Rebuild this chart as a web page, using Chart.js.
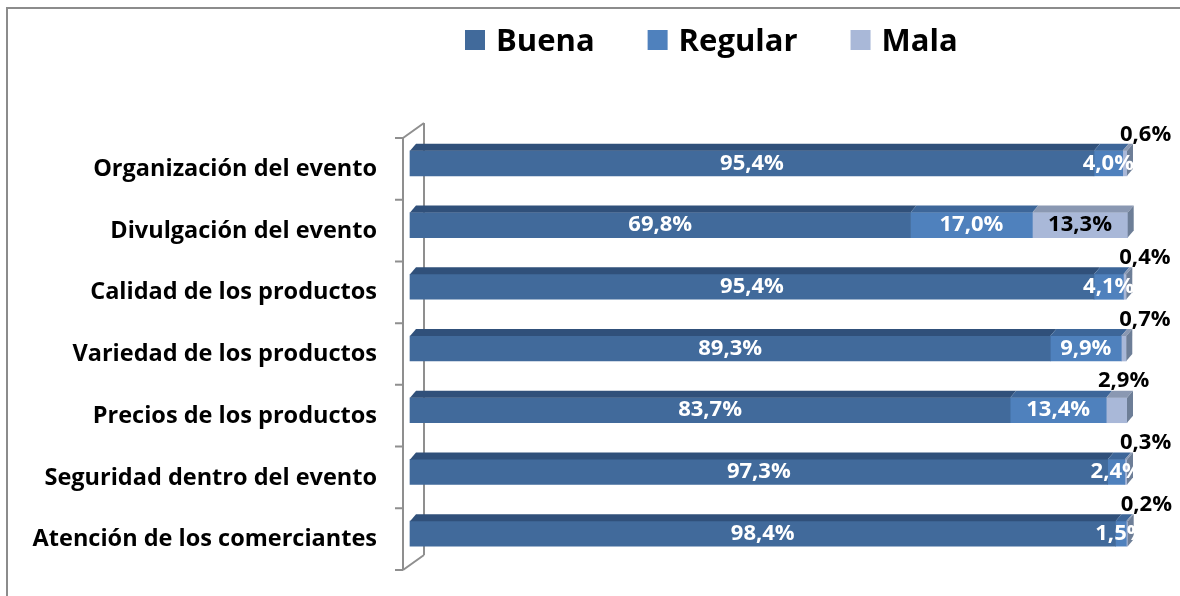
<!DOCTYPE html>
<html lang="es">
<head>
<meta charset="UTF-8" />
<title>Evaluación del evento</title>
<script src="https://cdn.jsdelivr.net/npm/chart.js"></script>
<style>
  html, body { margin: 0; padding: 0; background: #fff; }
  #wrap { width: 1180px; height: 596px; position: relative; }
</style>
</head>
<body>
<div id="wrap"><canvas id="chart" width="1180" height="596"></canvas></div>
<script>
// ----------- datos ------------
const categories = [
    'Organización del evento',
    'Divulgación del evento',
    'Calidad de los productos',
    'Variedad de los productos',
    'Precios de los productos',
    'Seguridad dentro del evento',
    'Atención de los comerciantes'
];
const seriesNames = ['Buena', 'Regular', 'Mala'];
const buena = [95.4, 69.8, 95.4, 89.3, 83.7, 97.3, 98.4];
const regular = [4.0, 17.0, 4.1, 9.9, 13.4, 2.4, 1.5];
const mala = [0.6, 13.3, 0.4, 0.7, 2.9, 0.3, 0.2];

const frontColors = ['#416a9b', '#4f81bd', '#a9b8d8'];
const topColors = ['#30507a', '#3d6699', '#8a98b2'];
const sideColor = '#6d7e97';
const labelColors = ['#ffffff', '#ffffff', '#000000'];
const FONT = '"Open Sans", "DejaVu Sans", sans-serif';
const DEPTH_X = 6, DEPTH_Y = 7;

const fmt = v => v.toFixed(1).replace('.', ',') + '%';

// marco, pared del eje y leyenda
const decoPlugin = {
    id: 'deco',
    beforeDatasetsDraw(chart) {
        const ctx = chart.ctx;
        const area = chart.chartArea;
        const ys = chart.scales.y;
        const band = ys.getPixelForValue(1) - ys.getPixelForValue(0);
        const top = ys.getPixelForValue(0) - band / 2 + 5.5;
        const bottom = ys.getPixelForValue(categories.length - 1) + band / 2 + 5.5;
        const fx = area.left - 7, bx = area.left + 14, off = 15;
        ctx.save();
        // marco exterior
        ctx.strokeStyle = '#8c8c8c';
        ctx.lineWidth = 2;
        ctx.beginPath();
        ctx.moveTo(7, 596); ctx.lineTo(7, 8); ctx.lineTo(1180, 8);
        ctx.stroke();
        // pared 3D
        ctx.strokeStyle = '#8f8f8f';
        ctx.lineWidth = 2;
        ctx.beginPath();
        ctx.moveTo(fx, top); ctx.lineTo(fx, bottom);
        ctx.moveTo(bx, top - off); ctx.lineTo(bx, bottom - off);
        ctx.moveTo(fx, top); ctx.lineTo(bx, top - off);
        ctx.moveTo(fx, bottom); ctx.lineTo(bx, bottom - off);
        for (let i = 0; i <= categories.length; i++) {
            const y = top + i * band;
            ctx.moveTo(fx - 8, y); ctx.lineTo(fx, y);
        }
        ctx.stroke();
        ctx.restore();
    },
    afterDatasetsDraw(chart) {
        const ctx = chart.ctx;
        const metas = chart.data.datasets.map((_, i) => chart.getDatasetMeta(i));
        ctx.save();
        // caras superior y lateral
        metas.forEach((meta, di) => {
            meta.data.forEach((bar, i) => {
                const h = bar.height, y0 = bar.y - h / 2;
                const x0 = Math.min(bar.base, bar.x), x1 = Math.max(bar.base, bar.x);
                ctx.fillStyle = topColors[di];
                ctx.beginPath();
                ctx.moveTo(x0, y0);
                ctx.lineTo(x0 + DEPTH_X, y0 - DEPTH_Y);
                ctx.lineTo(x1 + DEPTH_X, y0 - DEPTH_Y);
                ctx.lineTo(x1, y0);
                ctx.closePath();
                ctx.fill();
                if (di === metas.length - 1) {
                    ctx.fillStyle = sideColor;
                    ctx.beginPath();
                    ctx.moveTo(x1, y0);
                    ctx.lineTo(x1 + DEPTH_X, y0 - DEPTH_Y);
                    ctx.lineTo(x1 + DEPTH_X, y0 + h - DEPTH_Y);
                    ctx.lineTo(x1, y0 + h);
                    ctx.closePath();
                    ctx.fill();
                }
            });
        });
        // etiquetas de datos
        ctx.font = 'bold 22px ' + FONT;
        ctx.textBaseline = 'middle';
        metas.forEach((meta, di) => {
            const values = chart.data.datasets[di].data;
            meta.data.forEach((bar, i) => {
                const v = values[i];
                const cx = (bar.base + bar.x) / 2;
                ctx.fillStyle = labelColors[di];
                if (di === 2 && v < 5) {
                    const ly = bar.y - 29;
                    if (v < 1) {
                        ctx.textAlign = 'left';
                        ctx.fillText(fmt(v), bar.x - 7, ly);
                    } else {
                        ctx.textAlign = 'center';
                        ctx.fillText(fmt(v), cx + 7, ly);
                    }
                } else {
                    ctx.textAlign = 'center';
                    ctx.fillText(fmt(v), cx, bar.y);
                }
            });
        });
        // leyenda
        ctx.font = 'bold 31px ' + FONT;
        ctx.textAlign = 'left';
        let lx = 465;
        seriesNames.forEach((name, di) => {
            ctx.fillStyle = frontColors[di];
            ctx.fillRect(lx, 30, 20, 20);
            ctx.fillStyle = '#000';
            ctx.fillText(name, lx + 31, 42);
            lx += 31 + ctx.measureText(name).width + 53;
        });
        ctx.restore();
    }
};

const makeSet = (name, data, i) => ({
    label: name,
    data: data,
    backgroundColor: frontColors[i],
    borderWidth: 0,
    barThickness: 25,
    clip: false
});

new Chart(document.getElementById('chart').getContext('2d'), {
    type: 'bar',
    data: {
        labels: categories,
        datasets: [
            makeSet(seriesNames[0], buena, 0),
            makeSet(seriesNames[1], regular, 1),
            makeSet(seriesNames[2], mala, 2)
        ]
    },
    options: {
        indexAxis: 'y',
        responsive: false,
        animation: false,
        layout: { padding: { left: 10, right: 53, top: 132.5, bottom: 31.5 } },
        scales: {
            x: { stacked: true, min: 0, max: 100, display: false },
            y: {
                stacked: true,
                grid: { display: false, drawTicks: false },
                border: { display: false },
                ticks: {
                    padding: 33,
                    labelOffset: 6,
                    color: '#000',
                    font: { family: FONT, size: 23.5, weight: 'bold' }
                },
                afterFit: s => {
                    s.width = 400;
                    // el padding de las etiquetas no debe recortar el alto
                    s.paddingTop = 0;
                    s.paddingBottom = 0;
                }
            }
        },
        plugins: {
            legend: { display: false },
            tooltip: { enabled: false }
        }
    },
    plugins: [decoPlugin]
});
</script>
</body>
</html>
